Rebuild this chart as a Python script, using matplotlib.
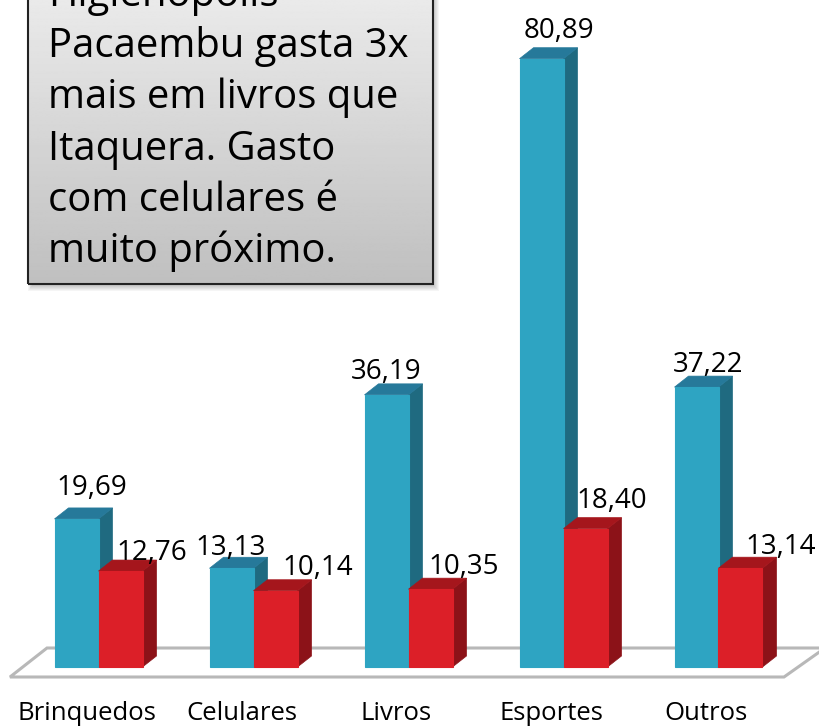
import numpy as np
import matplotlib
matplotlib.use("Agg")
import matplotlib.pyplot as plt
from matplotlib.patches import Polygon, Rectangle

plt.rcParams['font.family'] = ['Open Sans', 'DejaVu Sans']

categories = ["Brinquedos", "Celulares", "Livros", "Esportes", "Outros"]
higienopolis = [19.69, 13.13, 36.19, 80.89, 37.22]
itaquera = [12.76, 10.14, 10.35, 18.40, 13.14]
box_lines = ["Higienópolis", "Pacaembu gasta 3x", "mais em livros que",
             "Itaquera. Gasto", "com celulares é", "muito próximo."]

W, H = 819, 726
spacing = 155.0   # px between groups
first = 98.5      # px, centre of the first group
base = 667.0      # px, y of value 0
scale = 7.52      # px per unit
bar_w = 44.0
dx, dy = 14, 11   # depth of the 3d look, px

fig = plt.figure(figsize=(W / 100, H / 100), dpi=100)
ax = fig.add_axes([0, 0, 1, 1])
ax.set_xlim(-first / spacing, (W - first) / spacing)
ax.set_ylim(-(H - base) / scale, base / scale)
ax.axis("off")

ux = 1 / spacing
uy = 1 / scale


def px(x, y):
    # picture pixels to data units
    return (x - first) / spacing, (base - y) / scale


# floor
floor = Polygon([px(10, 677), px(47, 648), px(825, 648), px(784, 677)], closed=True,
                facecolor="white", edgecolor="#b8b8b8", lw=2.2, zorder=1)
ax.add_patch(floor)


def bars(xs, vals, front, side, top, z):
    ax.bar(xs, vals, bar_w * ux, color=front, zorder=z + 1, linewidth=0.8, edgecolor=front)
    for x, v in zip(xs, vals):
        l = x - bar_w * ux / 2
        r = x + bar_w * ux / 2
        ax.add_patch(Polygon([(r, 0), (r + dx * ux, dy * uy), (r + dx * ux, v + dy * uy), (r, v)],
                             facecolor=side, edgecolor=side, lw=0.5, zorder=z))
        ax.add_patch(Polygon([(l, v), (l + dx * ux, v + dy * uy), (r + dx * ux, v + dy * uy), (r, v)],
                             facecolor=top, edgecolor=top, lw=0.5, zorder=z))


xs = np.arange(len(categories))
bars(xs - bar_w * ux / 2, higienopolis, "#2ea4c2", "#1f6a80", "#26799a", 2)
bars(xs + bar_w * ux / 2, itaquera, "#dc1f28", "#8c1218", "#a5161c", 4)

# value labels, placed by hand like in the original
blue_pos = [(92, 495), (231, 555), (386, 379), (559, 38), (708, 372)]
red_pos = [(152, 560), (318, 575), (464, 574), (612, 508), (781, 554)]
for vals, pos in ((higienopolis, blue_pos), (itaquera, red_pos)):
    for v, (x, y) in zip(vals, pos):
        tx, ty = px(x, y)
        ax.text(tx, ty, f"{v:.2f}".replace(".", ","), ha="center", va="baseline",
                fontsize=20, color="black", zorder=10)

cat_x = [87, 242, 396, 551, 706]
for name, x in zip(categories, cat_x):
    tx, ty = px(x, 720)
    ax.text(tx, ty, name, ha="center", va="baseline", fontsize=18.5, color="black")

# text box with grey gradient and soft shadow
for i in range(6):
    sx, sy = px(28 + i * 0.8, 284 + 7 - i)
    ex, ey = px(433 + 6 - i, 0)
    ax.add_patch(Rectangle((sx, sy), ex - sx, ey - sy, facecolor="black", alpha=0.04,
                           edgecolor="none", zorder=11))
bl_x, bl_y = px(28, 284)
tr_x, tr_y = px(433, -4)
grad = np.linspace(0.92, 0.75, 256).reshape(-1, 1)
ax.imshow(grad, extent=(bl_x, tr_x, bl_y, tr_y), cmap="gray", vmin=0, vmax=1,
          aspect="auto", zorder=12)
ax.set_xlim(-first / spacing, (W - first) / spacing)
ax.set_ylim(-(H - base) / scale, base / scale)
ax.add_patch(Rectangle((bl_x, bl_y), tr_x - bl_x, tr_y - bl_y, facecolor="none",
                       edgecolor="#222222", lw=1.5, zorder=13))
for i, line in enumerate(box_lines):
    tx, ty = px(48, 6 + i * 51.2)
    ax.text(tx, ty, line, ha="left", va="baseline", fontsize=28.8, color="black", zorder=14)

fig.savefig("out.png", dpi=100)
